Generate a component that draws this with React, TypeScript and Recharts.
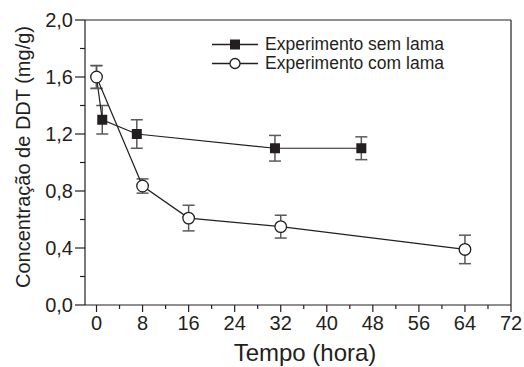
import { ComposedChart, Line, XAxis, YAxis, ErrorBar, ReferenceLine } from "recharts";

// --- data ---
const SEM_X = [0, 1, 7, 31, 46];
const SEM_Y = [1.6, 1.3, 1.2, 1.1, 1.1];
const SEM_ERR = [0.08, 0.1, 0.1, 0.09, 0.08];

const COM_X = [0, 8, 16, 32, 64];
const COM_Y = [1.6, 0.835, 0.61, 0.55, 0.39];
const COM_ERR = [0.08, 0.05, 0.09, 0.08, 0.1];

const X_TICKS = [0, 8, 16, 24, 32, 40, 48, 56, 64, 72];
const X_MINOR = [4, 12, 20, 28, 36, 44, 52, 60, 68];
const Y_TICKS = [0, 0.4, 0.8, 1.2, 1.6, 2.0];
const Y_MINOR = [0.2, 0.6, 1.0, 1.4, 1.8];

const SEM_LABEL = "Experimento sem lama";
const COM_LABEL = "Experimento com lama";

const INK = "#231f20";
const ERR_COLOR = "#5a5a5a";
const FONT = '"Liberation Sans", Arial, sans-serif';

const semData = SEM_X.map((x, i) => ({ x, y: SEM_Y[i], err: SEM_ERR[i] }));
const comData = COM_X.map((x, i) => ({ x, y: COM_Y[i], err: COM_ERR[i] }));

const fmt = (v: number) => v.toFixed(1).replace(".", ",");

function XTick({ x, y, payload }: any) {
  const major = X_TICKS.includes(payload.value);
  return (
    <g>
      <line x1={x} x2={x} y1={y} y2={y + (major ? 7 : 4)} stroke={INK} strokeWidth={1.2} />
      {major && (
        <text x={x} y={y + 25} textAnchor="middle" fontSize={20} fill={INK} fontFamily={FONT}>
          {payload.value}
        </text>
      )}
    </g>
  );
}

function YTick({ x, y, payload }: any) {
  const major = Y_TICKS.some((t) => Math.abs(t - payload.value) < 1e-6);
  return (
    <g>
      <line x1={x - (major ? 10 : 5)} x2={x} y1={y} y2={y} stroke={INK} strokeWidth={1.2} />
      {major && (
        <text x={x - 12} y={y + 7} textAnchor="end" fontSize={20} fill={INK} fontFamily={FONT}>
          {fmt(payload.value)}
        </text>
      )}
    </g>
  );
}

// first square sits under the first circle, so it is not drawn
function SquareDot({ cx, cy, index }: any) {
  if (index === 0) return <g key={`sq-${index}`} />;
  return <rect key={`sq-${index}`} x={cx - 5} y={cy - 5} width={10} height={10} fill={INK} />;
}

function XLabel({ viewBox }: any) {
  const { x, width } = viewBox;
  return (
    <text x={x + width / 2 + 7} y={361} textAnchor="middle" fontSize={24} fill={INK} fontFamily={FONT}>
      Tempo (hora)
    </text>
  );
}

function YLabel() {
  return (
    <text
      x={30}
      y={157}
      transform="rotate(-90, 30, 157)"
      textAnchor="middle"
      fontSize={20}
      fill={INK}
      fontFamily={FONT}
    >
      Concentração de DDT (mg/g)
    </text>
  );
}

function LegendBox() {
  const rows = [
    { label: SEM_LABEL, square: true },
    { label: COM_LABEL, square: false },
  ];
  return (
    <div
      style={{
        position: "absolute",
        left: 212,
        top: 35,
        fontFamily: FONT,
        fontSize: 17.5,
        color: INK,
        lineHeight: "19px",
        whiteSpace: "nowrap",
      }}
    >
      {rows.map((r) => (
        <div key={r.label} style={{ display: "flex", alignItems: "center", height: 19 }}>
          <svg width={47} height={19}>
            <line x1={0} x2={46} y1={9.5} y2={9.5} stroke={INK} strokeWidth={1.3} />
            {r.square ? (
              <rect x={18} y={4.5} width={10} height={10} fill={INK} />
            ) : (
              <circle cx={23} cy={9.5} r={5} fill="#fff" stroke={INK} strokeWidth={1.3} />
            )}
          </svg>
          <span style={{ marginLeft: 6 }}>{r.label}</span>
        </div>
      ))}
    </div>
  );
}

export default function App() {
  return (
    <div style={{ position: "absolute", left: 0, top: 0, width: 524, height: 367, background: "#fff" }}>
      <ComposedChart width={524} height={367} margin={{ top: 20, right: 13, bottom: 0, left: 0 }}>
        <XAxis
          type="number"
          dataKey="x"
          domain={[-2, 72]}
          ticks={[...X_TICKS, ...X_MINOR].sort((a, b) => a - b)}
          tick={<XTick />}
          tickSize={0}
          tickMargin={0}
          tickLine={false}
          height={62}
          stroke={INK}
          strokeWidth={1.2}
          allowDataOverflow
          label={<XLabel />}
        />
        <YAxis
          type="number"
          domain={[0, 2]}
          ticks={[...Y_TICKS, ...Y_MINOR].sort((a, b) => a - b)}
          tick={<YTick />}
          tickSize={0}
          tickMargin={0}
          tickLine={false}
          width={85}
          stroke={INK}
          strokeWidth={1.2}
          label={<YLabel />}
        />
        <ReferenceLine y={2} stroke={INK} strokeWidth={1.2} />
        <ReferenceLine x={72} stroke={INK} strokeWidth={1.2} />
        <Line
          data={semData}
          dataKey="y"
          name={SEM_LABEL}
          stroke={INK}
          strokeWidth={1.2}
          dot={<SquareDot />}
          activeDot={false}
          isAnimationActive={false}
        >
          <ErrorBar dataKey="err" direction="y" width={6} stroke={ERR_COLOR} strokeWidth={1.5} />
        </Line>
        <Line
          data={comData}
          dataKey="y"
          name={COM_LABEL}
          stroke={INK}
          strokeWidth={1.2}
          dot={{ r: 5.8, fill: "#fff", stroke: INK, strokeWidth: 1.3 }}
          activeDot={false}
          isAnimationActive={false}
        >
          <ErrorBar dataKey="err" direction="y" width={6} stroke={ERR_COLOR} strokeWidth={1.5} />
        </Line>
      </ComposedChart>
      <LegendBox />
    </div>
  );
}
